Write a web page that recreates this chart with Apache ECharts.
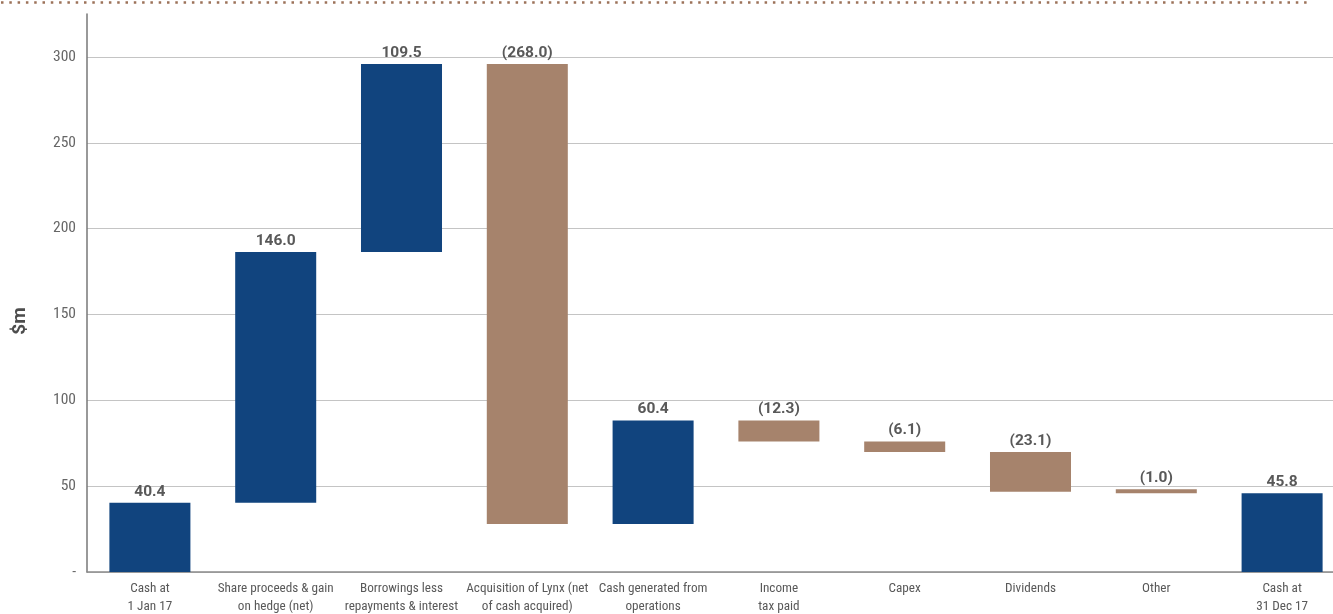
<!DOCTYPE html>
<html>
<head>
<meta charset="utf-8">
<script src="https://cdn.jsdelivr.net/npm/echarts@6/dist/echarts.min.js"></script>
<style>
html,body{margin:0;padding:0;background:#fff;}
#chart{width:1333px;height:614px;}
</style>
</head>
<body>
<div id="chart"></div>
<script>
const categories = [
  "Cash at\n1 Jan 17",
  "Share proceeds & gain\non hedge (net)",
  "Borrowings less\nrepayments & interest",
  "Acquisition of Lynx (net\nof cash acquired)",
  "Cash generated from\noperations",
  "Income\ntax paid",
  "Capex",
  "Dividends",
  "Other",
  "Cash at\n31 Dec 17"
];
// change values ($m); totals flagged separately
const changes = [40.4, 146.0, 109.5, -268.0, 60.4, -12.3, -6.1, -23.1, -1.0, 45.8];
const isTotal = [true, false, false, false, false, false, false, false, false, true];
const yTicks = [0, 50, 100, 150, 200, 250, 300];

const BLUE = '#11447E';
const TAN = '#A6836C';
const FONT = '"Roboto Condensed","Liberation Sans",sans-serif';
const BFONT = 'Roboto,"Liberation Sans",sans-serif';

const base = [], visible = [];
let running = 0;
changes.forEach((v, i) => {
  if (isTotal[i]) {
    base.push(0);
    visible.push({ value: v, raw: v, itemStyle: { color: BLUE } });
    running = v;
  } else {
    const start = running, end = running + v;
    base.push(Math.min(start, end));
    visible.push({ value: Math.abs(v), raw: v, itemStyle: { color: v >= 0 ? BLUE : TAN } });
    running = end;
  }
});

const chart = echarts.init(document.getElementById('chart'), null, { renderer: 'canvas' });
chart.setOption({
  animation: false,
  grid: { left: 87, right: -12, top: 14, bottom: 42, containLabel: false, outerBoundsMode: 'none' },
  graphic: [{
    type: 'line',
    shape: { x1: 1, y1: 2.5, x2: 1310, y2: 2.5 },
    style: { stroke: '#9C7259', lineWidth: 2.5, lineDash: [2.5, 5.8] }
  }, {
    type: 'text',
    x: 20, y: 321, rotation: Math.PI / 2,
    style: {
      text: '$m', fill: '#4d4d4d', font: 'bold 19px ' + BFONT,
      align: 'center', verticalAlign: 'middle'
    }
  }],
  xAxis: {
    type: 'category',
    data: categories,
    axisLine: { lineStyle: { color: '#8a8a8a', width: 1.5 } },
    axisTick: { show: false },
    axisLabel: {
      interval: 0, color: '#595959', fontFamily: FONT, fontSize: 13.2,
      lineHeight: 18, margin: 8
    }
  },
  yAxis: {
    type: 'value',
    min: 0, max: 325, interval: 50,
    axisLine: { show: true, lineStyle: { color: '#777', width: 1.5 } },
    axisTick: { show: false },
    axisLabel: {
      color: '#666', fontFamily: FONT, fontSize: 15.5, margin: 11, showMaxLabel: false,
      formatter: v => (v === 0 ? '-' : (yTicks.includes(v) ? String(v) : ''))
    },
    splitLine: { show: true, showMaxLine: false, lineStyle: { color: '#c4c4c4', width: 1.2 } }
  },
  series: [
    {
      type: 'bar', stack: 'w', data: base, barWidth: '64.4%',
      itemStyle: { color: 'transparent' }, silent: true
    },
    {
      type: 'bar', stack: 'w', data: visible, barWidth: '64.4%', barMinHeight: 4,
      label: {
        show: true, position: 'top', distance: 3,
        color: '#595959', fontFamily: BFONT, fontWeight: 'bold', fontSize: 15.5,
        formatter: p => {
          const r = p.data.raw;
          return r < 0 ? '(' + Math.abs(r).toFixed(1) + ')' : r.toFixed(1);
        }
      }
    }
  ]
});
</script>
</body>
</html>
